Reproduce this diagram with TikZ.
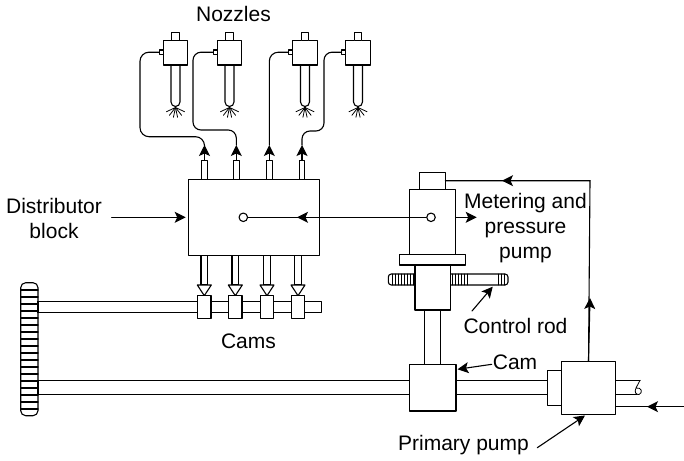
\documentclass[tikz,border=0pt]{standalone}
\usepackage{fontspec}
\setmainfont{Liberation Sans}
\usetikzlibrary{arrows.meta}
\tikzset{
  part/.style={draw,fill=white,inner sep=0pt,outer sep=0pt},
  pin/.style={draw,fill=white,circle,inner sep=0pt,minimum size=8.5pt},
  lbl/.style={inner sep=0pt,font=\fontsize{21}{25}\selectfont,align=center},
}
\begin{document}
\begin{tikzpicture}[x=1pt,y=-1pt,line cap=round,line join=round,>={Stealth[length=11pt,width=11pt,inset=2.5pt]},line width=1.1pt]
  \useasboundingbox (0,0) rectangle (684,460);
  % nozzles
  \foreach \n/\x in {1/175.5,2/229.5,3/305,4/358}{
    \draw[fill=white] ({\x-4.5},65) -- ({\x-4.5},102) arc[start angle=180,end angle=0,radius=4.5] -- ({\x+4.5},65);
    \node[part,minimum width=24.6pt,minimum height=24.4pt] (noz\n) at (\x,52.8) {};
    \node[part,minimum width=7.6pt,minimum height=8pt] (cap\n) at (\x,36.7) {};
    \node[part,minimum width=4pt,minimum height=4.4pt,anchor=east] (port\n) at ({\x-12.3},52.2) {};
    \foreach \a in {-65,-38,-12,12,38,65}
      \draw[line width=0.8pt] (\x,107.5) -- ++({90+\a}:10);
  }
  % distributor block
  \foreach \n/\x in {1/204.5,2/236.3,3/269.3,4/302}{
    \node[part,minimum width=5.8pt,minimum height=19pt] (out\n) at (\x,169.7) {};
    \coordinate (tip\n) at (\x,145);
    \draw[->] (out\n.north) -- (tip\n);
  }
  \node[part,minimum width=130.6pt,minimum height=76.4pt] (block) at (254,217.5) {};
  \draw[rounded corners=9pt] (port1.west) -- (140,52.2) -- (140,136.7) -- (204.5,136.7) -- (tip1);
  \draw[rounded corners=8pt] (port2.west) -- (193,52.2) -- (193,130) -- (236.3,130) -- (tip2);
  \draw[rounded corners=9pt] (port3.west) -- (269.3,52.2) -- (tip3);
  \draw[rounded corners=8pt] (port4.west) -- (324,52.2) -- (324,131) -- (302,131) -- (tip4);
  % camshaft with four cams
  \draw (38,301.3) -- (321.7,301.3) -- (321.7,312.7) -- (38,312.7);
  \foreach \n/\x in {1/204.3,2/235.3,3/267,4/298}{
    \draw[fill=white] ({\x-3.3},255.7) rectangle ({\x+3.3},285);
    \draw[fill=white] ({\x-7},285) -- ({\x+7},285) -- (\x,295.7) -- cycle;
    \node[part,minimum width=13.3pt,minimum height=22.6pt] (cam\n) at (\x,307) {};
  }
  % hand wheel
  \draw[fill=white,rounded corners=5pt] (20.7,282.7) rectangle (38,415.7);
  \foreach \y in {290,297,...,410}
    \draw[line width=1.2pt] (21,\y) -- (38,\y);
  % main shaft
  \draw (38,380.3) -- (409,380.3) (38,394.8) -- (409,394.8);
  \draw (456,380.3) -- (547,380.3) (456,394.8) -- (547,394.8);
  \draw (38,301.3) -- (38,312.7) (38,380.3) -- (38,394.8);
  % metering and pressure pump
  \draw[fill=white] (424.3,310) rectangle (440.7,365);
  \node[part,minimum width=26pt,minimum height=16.6pt] (pumpcap) at (432.3,181) {};
  \node[part,minimum width=46.4pt,minimum height=65.4pt] (pump) at (432.5,222) {};
  % control rod
  \draw[fill=white,rounded corners=3pt] (388.3,274) rectangle (508,285);
  \foreach \x in {392,395,...,413,452,455,...,468,498,501,504}
    \draw[line width=0.8pt] (\x,274) -- (\x,285);
  \node[part,minimum width=35.3pt,minimum height=45pt] (stem) at (432.6,287.5) {};
  \node[part,minimum width=65.7pt,minimum height=10.3pt] (flange) at (432.2,259.8) {};
  % cam and primary pump
  \node[part,minimum width=46.7pt,minimum height=46.3pt] (cam) at (432.6,387.8) {};
  \node[part,minimum width=14.3pt,minimum height=35.4pt] (collar) at (554.2,388) {};
  \node[part,minimum width=54.4pt,minimum height=53pt] (primary) at (588.5,387.8) {};
  \draw (primary.east |- 0,380.3) -- (640,380.3) (primary.east |- 0,394.8) -- (637,394.8);
  \draw[line width=0.8pt] (640,380.3) -- (636,388) .. controls (634,392) and (636,395) .. (639,394.5) .. controls (643,393) and (642,387) .. (636,388);
  % flow lines
  \node[pin] (blockpin) at (243.3,217.3) {};
  \node[pin] (pumppin) at (431,217.3) {};
  \draw (pumppin) -- (blockpin);
  \draw[->] (pumppin) -- (297,217.3);
  \coordinate (corner) at (590,180.7);
  \draw (primary.north) -- (corner) -- (pumpcap.east |- corner);
  \draw[->] (primary.north) -- (590,298);
  \draw[->] (corner) -- (502,180.7);
  \coordinate (inlet) at (684,406.7);
  \draw (inlet) -- (primary.east |- inlet);
  \draw[->] (inlet) -- (647,406.7);
  \draw[->] (pump.east |- pumppin) -- (476.7,217.3);
  % labels
  \node[lbl] (noztext) at (233.5,14) {Nozzles};
  \node[lbl] (disttext) at (54,218) {Distributor\\block};
  \node[lbl] (camstext) at (248.5,341) {Cams};
  \node[lbl] (metertext) at (525.5,228) {Metering and\\pressure\\pump};
  \node[lbl] (rodtext) at (515.5,326) {Control rod};
  \node[lbl] (camtext) at (515,362.5) {Cam};
  \node[lbl] (primtext) at (463.5,445) {Primary pump};
  \coordinate (distfrom) at (111.7,217.3);
  \draw[->,shorten >=3pt] (distfrom) -- (block.west |- distfrom);
  \coordinate (rodfrom) at (472,311);
  \coordinate (rodto) at (492.7,286.7);
  \draw[->] (rodfrom) -- (rodto);
  \coordinate (camfrom) at (491.7,364.3);
  \coordinate (camto) at (457.5,369.3);
  \draw[->] (camfrom) -- (camto);
  \coordinate (primfrom) at (537.3,447.7);
  \coordinate (primto) at (585,415.5);
  \draw[->] (primfrom) -- (primto);
\end{tikzpicture}
\end{document}
